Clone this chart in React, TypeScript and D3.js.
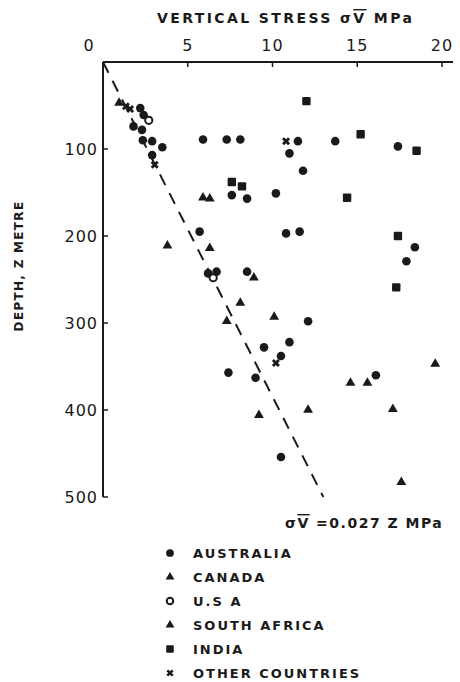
import React from "react";
import * as d3 from "d3";

// ---- data (stress MPa, depth m) ----
const australia: [number, number][] = [
  [2.2, 53], [2.4, 61], [1.8, 74], [2.3, 78], [2.35, 90], [2.9, 91], [3.5, 98], [2.9, 107],
  [5.9, 89], [7.3, 89], [8.1, 89], [7.6, 153], [8.5, 157], [10.2, 151], [11.5, 91], [11.0, 105],
  [11.8, 125], [13.7, 91], [17.4, 97], [5.7, 195], [10.8, 197], [11.6, 195], [18.4, 213],
  [17.9, 229], [6.2, 243], [6.7, 241], [8.5, 241], [12.1, 298], [9.5, 328], [11.0, 322],
  [10.5, 338], [7.4, 357], [9.0, 363], [16.1, 360], [10.5, 454],
];
const canada: [number, number][] = [
  [0.95, 47], [3.8, 211], [6.3, 214], [8.9, 248], [8.1, 277], [7.3, 298], [9.2, 406],
];
const usa: [number, number][] = [[2.7, 67], [6.5, 248]];
const southAfrica: [number, number][] = [
  [5.9, 156], [6.3, 157], [10.1, 293], [14.6, 369], [15.6, 369], [19.6, 347], [12.1, 400],
  [17.1, 399], [17.6, 483],
];
const india: [number, number][] = [
  [12.0, 45], [7.6, 138], [8.2, 143], [15.2, 83], [18.5, 102], [14.4, 156], [17.4, 200], [17.3, 259],
];
const other: [number, number][] = [[1.35, 51], [1.6, 54], [3.05, 118], [10.8, 91], [10.2, 346]];

const xTicks = [0, 5, 10, 15, 20];
const yTicks = [100, 200, 300, 400, 500];
const legendLabels = ["AUSTRALIA", "CANADA", "U.S A", "SOUTH AFRICA", "INDIA", "OTHER COUNTRIES"];
const legendKinds = ["circle", "triangle", "open", "triangle", "square", "other"];
const lineGradient = 0.026; // visual slope of dashed line
const lineDepth = 500;

const W = 460, H = 682;
const x = d3.scaleLinear().domain([0, 20]).range([103, 442]);
const y = d3.scaleLinear().domain([0, 500]).range([62, 497]);

const FONT = "'DejaVu Sans', sans-serif";
const INK = "#1a1a1a";

function Marker({ kind, cx, cy, s = 1 }: { kind: string; cx: number; cy: number; s?: number }) {
  if (kind === "circle")
    return <circle cx={cx} cy={cy} r={4.3 * s} fill={INK} />;
  if (kind === "open")
    return <circle cx={cx} cy={cy} r={3.6 * s} fill="#fff" stroke={INK} strokeWidth={2} />;
  if (kind === "square")
    return <rect x={cx - 4.2 * s} y={cy - 4.2 * s} width={8.4 * s} height={8.4 * s} rx={1} fill={INK} />;
  if (kind === "triangle") {
    const p = d3.symbol(d3.symbolTriangle, 42 * s * s)()!;
    return <path d={p} transform={`translate(${cx},${cy})`} fill={INK} />;
  }
  const p = d3.symbol(d3.symbolCross, 40 * s * s)()!;
  return <path d={p} transform={`translate(${cx},${cy}) rotate(45)`} fill={INK} />;
}

export default function App() {
  const series: [string, [number, number][]][] = [
    ["circle", australia], ["triangle", canada], ["open", usa],
    ["triangle", southAfrica], ["square", india], ["other", other],
  ];
  const lineGen = d3.line<[number, number]>().x((d) => x(d[0])).y((d) => y(d[1]));
  const lineData: [number, number][] = [[0, 0], [lineGradient * lineDepth, lineDepth]];
  return (
    <svg width={W} height={H} style={{ position: "absolute", left: 0, top: 0, background: "#fff" }}
      fontFamily={FONT} fill={INK}>
      {/* title */}
      <text x={157} y={23} fontSize={14} fontWeight="bold" letterSpacing={2.4}>
        VERTICAL STRESS σ<tspan textDecoration="overline">V</tspan> MPa
      </text>
      {/* top axis */}
      <line x1={x(0)} x2={453} y1={y(0)} y2={y(0)} stroke={INK} strokeWidth={2} />
      {xTicks.map((t) => (
        <g key={t}>
          {t > 0 && <line x1={x(t)} x2={x(t)} y1={y(0)} y2={y(0) + 5} stroke={INK} strokeWidth={1.5} />}
          <text x={t === 0 ? x(t) - 14 : x(t)} y={51} fontSize={16} textAnchor="middle" letterSpacing={1}>{t}</text>
        </g>
      ))}
      {/* left axis */}
      <line x1={x(0)} x2={x(0)} y1={y(0)} y2={y(500)} stroke={INK} strokeWidth={2} />
      {yTicks.map((t) => (
        <g key={t}>
          <line x1={x(0)} x2={x(0) + 5} y1={y(t)} y2={y(t)} stroke={INK} strokeWidth={1.5} />
          <text x={x(0) - 5} y={y(t) + 6} fontSize={16} textAnchor="end" letterSpacing={1}>{t}</text>
        </g>
      ))}
      <text transform={`translate(23,266) rotate(-90)`} fontSize={12} fontWeight="bold"
        textAnchor="middle" letterSpacing={1.3}>DEPTH, Z METRE</text>
      {/* dashed regression line */}
      <path d={lineGen(lineData)!} fill="none" stroke={INK} strokeWidth={2}
        strokeDasharray="12 9" />
      <text x={285} y={528} fontSize={14} fontWeight="bold" letterSpacing={1.5}>
        σ<tspan textDecoration="overline">V</tspan> =0.027 Z MPa
      </text>
      {/* points */}
      {series.map(([kind, pts], i) =>
        pts.map((d, j) => <Marker key={`${i}-${j}`} kind={kind} cx={x(d[0])} cy={y(d[1])} />)
      )}
      {/* legend */}
      {legendLabels.map((l, i) => (
        <g key={l}>
          <Marker kind={legendKinds[i]} cx={170} cy={553 + i * 24} s={0.9} />
          <text x={193} y={558 + i * 24} fontSize={13} fontWeight="bold" letterSpacing={2}>{l}</text>
        </g>
      ))}
    </svg>
  );
}
